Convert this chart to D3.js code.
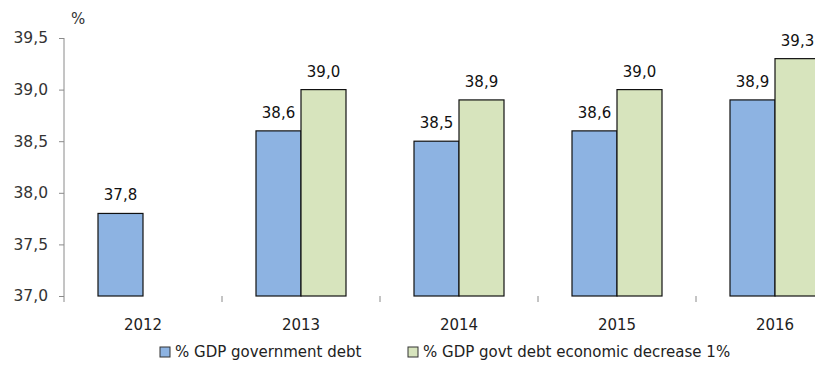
<!DOCTYPE html>
<html>
<head>
<meta charset="utf-8">
<script src="https://cdn.jsdelivr.net/npm/d3@7"></script>
<style>
    body { margin: 0; background: #fff; }
    text { font-family: "DejaVu Sans", Verdana, sans-serif; }
</style>
</head>
<body>
<div id="chart"></div>
<script>
const years = ["2012", "2013", "2014", "2015", "2016"]
const seriesNames = ["% GDP government debt", "% GDP govt debt economic decrease 1%"]
const govDebt = [37.8, 38.6, 38.5, 38.6, 38.9]
const decreaseDebt = [null, 39.0, 38.9, 39.0, 39.3]
const yTicks = [37.0, 37.5, 38.0, 38.5, 39.0, 39.5]
const colors = ["#8DB3E2", "#D7E4BD"]

const fmt = v => v.toFixed(1).replace('.', ',')

const width = 815, height = 374
const margin = { left: 64, top: 38, bottom: 296 }
const step = 158

const svg = d3.select("#chart").append("svg")
    .attr("width", width)
    .attr("height", height)

const x = d3.scaleBand()
    .domain(years)
    .range([margin.left, margin.left + step * years.length])
    .padding(0)

const xSeries = d3.scaleBand()
    .domain([0, 1])
    .range([34, 124])
    .padding(0)

const y = d3.scaleLinear()
    .domain([37, 39.5])
    .range([margin.bottom, margin.top])

// y axis
const yAxis = svg.append("g")
    .attr("transform", `translate(${margin.left},0)`)
    .call(d3.axisLeft(y).tickValues(yTicks).tickSize(5).tickFormat(fmt))
yAxis.select(".domain").attr("stroke", "#8a8a8a").attr("d", `M0,${margin.top}V${margin.bottom + 6}`)
yAxis.selectAll(".tick line").attr("stroke", "#8a8a8a")
yAxis.selectAll(".tick text")
    .attr("x", -16)
    .attr("font-size", 15.5)
    .attr("fill", "#333")

svg.append("text")
    .attr("x", 71)
    .attr("y", 24)
    .attr("font-size", 15)
    .attr("fill", "#333")
    .text("%")

// category separators
svg.append("g").selectAll("line")
    .data(years.slice(1))
    .join("line")
    .attr("x1", d => x(d))
    .attr("x2", d => x(d))
    .attr("y1", margin.bottom)
    .attr("y2", margin.bottom + 6)
    .attr("stroke", "#8a8a8a")

svg.append("g").selectAll("text")
    .data(years)
    .join("text")
    .attr("x", d => x(d) + step / 2)
    .attr("y", 330)
    .attr("text-anchor", "middle")
    .attr("font-size", 15)
    .attr("fill", "#222")
    .text(d => d)

const data = years.flatMap((year, i) => [
    { year, s: 0, value: govDebt[i] },
    { year, s: 1, value: decreaseDebt[i] }
]).filter(d => d.value !== null)

const bars = svg.append("g")
bars.selectAll("rect")
    .data(data)
    .join("rect")
    .attr("x", d => x(d.year) + xSeries(d.s))
    .attr("y", d => y(d.value))
    .attr("width", xSeries.bandwidth())
    .attr("height", d => y(37) - y(d.value))
    .attr("fill", d => colors[d.s])
    .attr("stroke", "#111")
    .attr("stroke-width", 1.2)

bars.selectAll("text")
    .data(data)
    .join("text")
    .attr("x", d => x(d.year) + xSeries(d.s) + xSeries.bandwidth() / 2)
    .attr("y", d => y(d.value) - 13)
    .attr("text-anchor", "middle")
    .attr("font-size", 15)
    .attr("fill", "#111")
    .text(d => fmt(d.value))

// legend
const legendX = [160, 408]
const legend = svg.append("g").selectAll("g")
    .data(seriesNames)
    .join("g")
    .attr("transform", (d, i) => `translate(${legendX[i]},347)`)
legend.append("rect")
    .attr("width", 10)
    .attr("height", 10)
    .attr("fill", (d, i) => colors[i])
    .attr("stroke", "#333")
legend.append("text")
    .attr("x", 15)
    .attr("y", 10)
    .attr("font-size", 15)
    .attr("fill", "#222")
    .text(d => d)
</script>
</body>
</html>
